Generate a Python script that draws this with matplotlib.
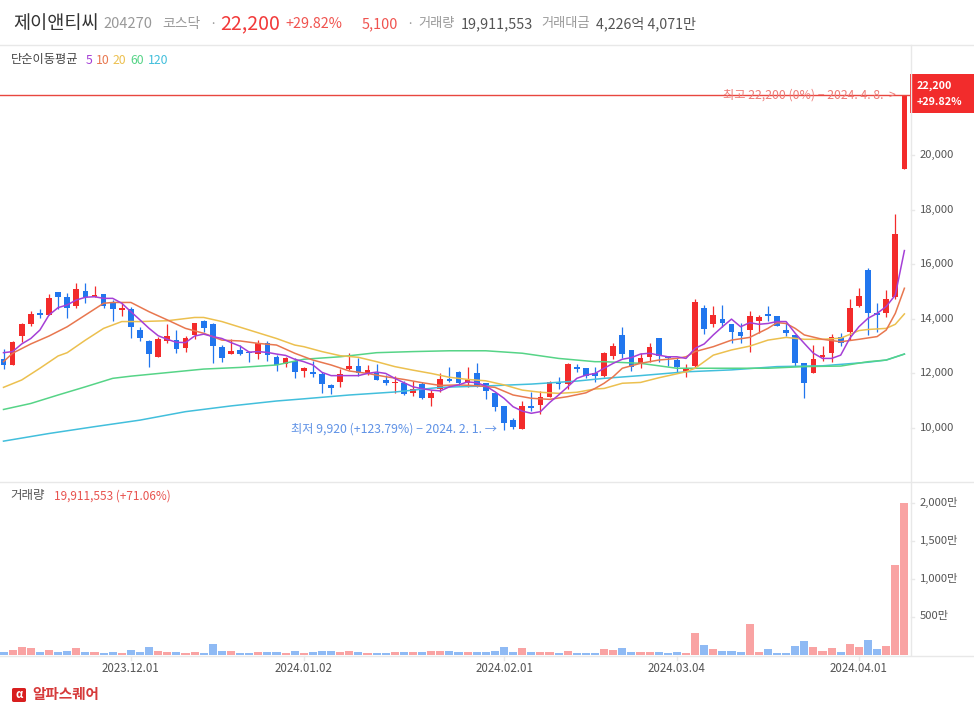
import matplotlib
matplotlib.use("Agg")
import matplotlib.pyplot as plt
from matplotlib.patches import FancyBboxPatch, Rectangle

plt.rcParams["font.family"] = ["Noto Sans CJK KR", "DejaVu Sans"]

W, H = 974, 709

# candles (one per trading day)
opens = [12530, 12310, 13370, 13810, 14210, 14150, 14980, 14800, 14470, 15020,
         14800, 14910, 14590, 14320, 14360, 13590, 13200, 12610, 13190, 13220,
         12940, 13420, 13920, 13810, 12970, 12720, 12860, 12800, 12720, 13100,
         12600, 12330, 12450, 12090, 12050, 11980, 11560, 11700, 12150, 12270,
         12000, 12030, 11760, 11640, 11650, 11290, 11610, 11100, 11440, 11780,
         12050, 11660, 12010, 11640, 11270, 10810, 10290, 9980, 10810, 10840,
         11140, 11690, 11620, 12220, 12190, 12030, 11900, 12650, 13410, 12850,
         12330, 12610, 13300, 12630, 12490, 12050, 12280, 14400, 13810, 13990,
         13810, 13520, 13590, 13920, 14180, 14100, 13590, 13410, 12370, 12030,
         12610, 12760, 13320, 13530, 14470, 15790, 14200, 14230, 14810, 19490]
closes = [12310, 13160, 13810, 14180, 14150, 14760, 14810, 14400, 15090, 14790,
          14860, 14480, 14360, 14400, 13700, 13300, 12720, 13260, 13370, 12900,
          13300, 13830, 13680, 13020, 12580, 12820, 12710, 12740, 13100, 12690,
          12320, 12560, 12040, 12200, 11990, 11620, 11480, 11980, 12270, 12010,
          12110, 11770, 11660, 11690, 11260, 11430, 11100, 11280, 11780, 11730,
          11650, 11780, 11510, 11370, 10780, 10200, 10050, 10810, 10730, 11120,
          11670, 11610, 12340, 12160, 11920, 11900, 12750, 13000, 12720, 12250,
          12560, 12970, 12650, 12580, 12250, 12200, 14620, 13640, 14140, 13850,
          13520, 13370, 14100, 14070, 14100, 13740, 13480, 12390, 11660, 12520,
          12670, 13330, 13130, 14400, 14840, 14230, 14140, 14730, 17110, 22200]
highs = [12890, 13190, 13830, 14290, 14360, 14910, 14980, 14930, 15300, 15300,
         15200, 14910, 14690, 14590, 14440, 13690, 13220, 13350, 13810, 13590,
         13370, 13860, 13960, 13830, 13040, 13250, 13040, 12820, 13220, 13190,
         12670, 12610, 12550, 12250, 12470, 12060, 11610, 12150, 12760, 12550,
         12310, 12340, 11940, 11920, 11720, 11720, 11690, 11390, 12030, 12250,
         12100, 12250, 12390, 11660, 11290, 10810, 10350, 10980, 11330, 11360,
         11730, 11860, 12370, 12340, 12190, 12230, 12770, 13100, 13710, 12850,
         12740, 13100, 13300, 12630, 12550, 12350, 14730, 14510, 14470, 14510,
         13810, 13830, 14290, 14140, 14470, 14100, 13900, 13410, 12370, 13040,
         13000, 13430, 13490, 14730, 15130, 15850, 14590, 15060, 17840, 22200]
lows = [12160, 12310, 13150, 13750, 14040, 14150, 14360, 14040, 14410, 14590,
        14790, 14410, 13930, 14110, 13310, 13200, 12250, 12610, 13100, 12740,
        12800, 13250, 13530, 12390, 12430, 12720, 12690, 12420, 12540, 12470,
        12100, 12250, 11820, 11880, 11880, 11290, 11250, 11510, 12120, 11920,
        11940, 11770, 11560, 11290, 11200, 11170, 11070, 10810, 11330, 11700,
        11580, 11510, 11490, 11060, 10620, 9920, 9960, 9950, 10620, 10510,
        11120, 11420, 11420, 12040, 11840, 11700, 11880, 12520, 12580, 12100,
        12190, 12430, 12430, 12280, 12030, 11880, 12210, 13440, 13710, 13710,
        13130, 13130, 12780, 13490, 13930, 13740, 13380, 12270, 11110, 12030,
        12470, 12430, 13020, 13220, 14420, 13420, 13530, 14080, 14740, 19490]

# volume in 만 shares
volumes = [44, 70, 101, 88, 44, 70, 44, 57, 88, 44,
           35, 31, 44, 31, 70, 39, 110, 57, 44, 44,
           31, 44, 26, 140, 57, 57, 31, 31, 35, 44,
           44, 31, 57, 31, 35, 53, 53, 44, 57, 44,
           26, 26, 26, 44, 44, 44, 44, 57, 57, 57,
           44, 44, 35, 44, 57, 101, 44, 88, 44, 44,
           44, 31, 57, 31, 31, 31, 75, 61, 88, 44,
           44, 44, 44, 31, 44, 31, 285, 127, 75, 57,
           57, 44, 404, 44, 75, 31, 31, 123, 180, 101,
           57, 88, 44, 140, 101, 193, 75, 114, 1175, 1991]

# moving averages
ma5 = [12760, 12800, 13080, 13280, 13590, 14140, 14410, 14510, 14690, 14790,
       14810, 14750, 14750, 14570, 14260, 13960, 13650, 13380, 13250, 13140,
       13130, 13370, 13440, 13350, 13280, 13130, 13000, 12780, 12800, 12770,
       12710, 12660, 12520, 12430, 12310, 12040, 11920, 11920, 11920, 11920,
       12000, 12050, 12000, 11820, 11660, 11510, 11440, 11390, 11360, 11510,
       11580, 11690, 11660, 11540, 11330, 11090, 10780, 10620, 10540, 10600,
       10930, 11210, 11510, 11820, 11940, 12000, 12190, 12370, 12520, 12580,
       12710, 12740, 12670, 12610, 12610, 12550, 12920, 13080, 13410, 13710,
       13990, 13710, 13860, 13800, 13830, 13900, 13900, 13470, 13100, 12740,
       12550, 12550, 12670, 13290, 13710, 14020, 14200, 14450, 14870, 16500]
ma10_idx = [0, 1, 3, 5, 7, 9, 11, 12, 14, 16, 18, 20, 22, 24, 26, 28, 30, 32,
            34, 36, 38, 40, 42, 44, 46, 48, 50, 52, 54, 56, 58, 60, 62, 64, 65,
            66, 67, 68, 70, 72, 74, 75, 76, 78, 80, 82, 84, 85, 86, 87, 88, 90,
            92, 94, 96, 97, 98, 99]
ma10 = [12430, 12740, 13080, 13370, 13710, 14140, 14570, 14600, 14600, 14260,
        13960, 13650, 13470, 13220, 13190, 13100, 13040, 12740, 12490, 12310,
        12090, 12000, 11880, 11780, 11660, 11560, 11580, 11550, 11490, 11210,
        11090, 11050, 11150, 11290, 11450, 11640, 11880, 12190, 12370, 12490,
        12550, 12610, 12800, 12980, 13220, 13320, 13650, 13860, 13830, 13650,
        13410, 13250, 13160, 13250, 13350, 13590, 14200, 15120]
ma20_idx = [0, 2, 4, 6, 7, 9, 11, 13, 15, 18, 21, 22, 24, 27, 30, 32, 33, 35,
            37, 39, 41, 43, 45, 47, 49, 51, 53, 55, 57, 59, 61, 63, 65, 66, 68,
            70, 72, 75, 76, 78, 80, 82, 84, 86, 88, 90, 92, 94, 95, 97, 98, 99]
ma20 = [11490, 11760, 12190, 12640, 12760, 13220, 13650, 13900, 13900, 13930,
        14050, 14050, 13900, 13590, 13280, 13040, 12980, 12800, 12650, 12590,
        12430, 12250, 12120, 12000, 11860, 11780, 11730, 11580, 11390, 11310,
        11270, 11310, 11430, 11450, 11640, 11670, 11840, 12060, 12190, 12670,
        12860, 13000, 13220, 13320, 13250, 13250, 13290, 13570, 13610, 13650,
        13800, 14180]
ma60_idx = [0, 3, 6, 9, 12, 14, 18, 22, 26, 30, 33, 37, 41, 45, 49, 53, 57, 61,
            65, 66, 70, 74, 78, 84, 88, 92, 95, 97, 99]
ma60 = [10680, 10900, 11210, 11510, 11820, 11900, 12030, 12160, 12220, 12310,
        12520, 12610, 12760, 12800, 12830, 12830, 12740, 12550, 12430, 12430,
        12370, 12190, 12190, 12190, 12250, 12270, 12430, 12490, 12710]
ma120_idx = [0, 5, 10, 15, 20, 25, 30, 33, 38, 43, 48, 53, 58, 63, 66, 70, 75,
             80, 85, 90, 95, 97, 99]
ma120 = [9520, 9800, 10050, 10290, 10600, 10810, 10990, 11070, 11210, 11320,
         11490, 11540, 11610, 11720, 11820, 11920, 12060, 12130, 12250, 12280,
         12410, 12490, 12710]

price_ticks = [10000, 12000, 14000, 16000, 18000, 20000]
vol_ticks = [500, 1000, 1500, 2000]
date_idx = [14, 33, 55, 74, 94]
date_labels = ["2023.12.01", "2024.01.02", "2024.02.01", "2024.03.04", "2024.04.01"]
last_price = 22200

RED = "#f32b2b"
BLUE = "#2176ee"
RED_V = "#f9a3a3"
BLUE_V = "#8fbaf4"
GREY = "#e8e8e8"
MA_COLORS = ["#a53fd6", "#e8774f", "#ecc04f", "#56d487", "#42bfdc"]


def fx(px):
    return px / W


def fy(py):
    return 1 - py / H


def put(px, py, s, color="#333333", size=8, weight="normal", ha="left"):
    fig.text(fx(px), fy(py), s, color=color, fontsize=size, fontweight=weight, ha=ha, va="center")


fig = plt.figure(figsize=(W / 100, H / 100), dpi=100, facecolor="white")

ax = fig.add_axes([0, fy(481), fx(910), (481 - 45) / H])
vax = fig.add_axes([0, fy(655), fx(910), (655 - 482) / H])

for a in (ax, vax):
    a.set_xlim(-0.385, 99.615)
    a.set_xticks([])
    a.set_yticks([])
    for s in a.spines.values():
        s.set_visible(False)
ax.set_ylim(8060, 24030)
vax.set_ylim(0, 2270)

days = list(range(len(closes)))
up = [c >= o for o, c in zip(opens, closes)]
colors = [RED if u else BLUE for u in up]

# wicks then bodies
ax.vlines(days, lows, highs, colors=colors, linewidth=0.9, zorder=2)
ax.bar(days, [abs(c - o) for o, c in zip(opens, closes)], bottom=[min(o, c) for o, c in zip(opens, closes)],
       width=0.62, color=colors, linewidth=0, zorder=3)

ax.plot(ma120_idx, ma120, color=MA_COLORS[4], lw=1.1, zorder=4)
ax.plot(ma60_idx, ma60, color=MA_COLORS[3], lw=1.1, zorder=4)
ax.plot(ma20_idx, ma20, color=MA_COLORS[2], lw=1.1, zorder=4)
ax.plot(ma10_idx, ma10, color=MA_COLORS[1], lw=1.1, zorder=4)
ax.plot(days, ma5, color=MA_COLORS[0], lw=1.1, zorder=5)

ax.axhline(last_price, color="#e8473f", lw=1.0, zorder=6)

vax.bar(days, volumes, width=0.88, color=[RED_V if u else BLUE_V for u in up], linewidth=0)

# frame lines
fig.add_artist(plt.Line2D([0, 1], [fy(44.5)] * 2, color=GREY, lw=1))
fig.add_artist(plt.Line2D([0, 1], [fy(481.5)] * 2, color=GREY, lw=1))
fig.add_artist(plt.Line2D([0, 1], [fy(655.5)] * 2, color=GREY, lw=1))
fig.add_artist(plt.Line2D([fx(910.5)] * 2, [fy(45), fy(655)], color=GREY, lw=1))

# right axis labels
for p in price_ticks:
    y = 428 - (p - 10000) * 0.0273
    fig.add_artist(plt.Line2D([fx(911), fx(914)], [fy(y)] * 2, color=GREY, lw=1))
    put(920, y, f"{p:,}", "#555555", 8.1)
for v in vol_ticks:
    y = 654.5 - v * 0.076
    fig.add_artist(plt.Line2D([fx(911), fx(914)], [fy(y)] * 2, color=GREY, lw=1))
    put(920, y, f"{v:,}만", "#555555", 8.1)

# date labels
for i, lab in zip(date_idx, date_labels):
    x = 3.5 + 9.1 * i
    fig.add_artist(plt.Line2D([fx(x)] * 2, [fy(656), fy(660)], color=GREY, lw=1))
    put(x, 669, lab, "#555555", 8.3, ha="center")

# last price tag
fig.add_artist(Rectangle((fx(910), fy(113)), fx(64), 39 / H, transform=fig.transFigure, color="#f22c2c", lw=0))
put(917, 86, "22,200", "white", 7.8, "bold")
put(917, 102, "+29.82%", "white", 7.8, "bold")

# annotations
put(723, 95, "최고 22,200 (0%) − 2024. 4. 8.  >", "#ee7c78", 8.8)
put(291, 429, "최저 9,920 (+123.79%) − 2024. 2. 1. →", "#5f92e6", 8.8)

# header
put(13, 24, "제이앤티씨", "#333333", 13.4, "medium")
put(103, 24, "204270", "#999999", 10.5)
put(162, 24, "코스닥", "#999999", 10)
put(209, 24, "·", "#999999", 9.5)
put(220, 24, "22,200", "#f23a3a", 14, "medium")
put(285, 24, "+29.82%", "#f0534f", 10.4)
put(362, 24, "5,100", "#f0534f", 10.4)
put(406, 24, "·", "#999999", 9.5)
put(418, 24, "거래량", "#999999", 9.5)
put(461, 24, "19,911,553", "#555555", 10.4)
put(541, 24, "거래대금", "#999999", 9.5)
put(596, 24, "4,226억 4,071만", "#555555", 10.2)

# indicator legend
put(11, 60, "단순이동평균", "#444444", 8.8)
for px, lab, c in zip([86, 96, 113, 130, 148], ["5", "10", "20", "60", "120"], MA_COLORS):
    put(px, 60, lab, c, 8.8)

put(10, 496, "거래량", "#555555", 9)
put(54, 496, "19,911,553 (+71.06%)", "#e8534f", 8.5)

# logo
fig.add_artist(FancyBboxPatch((fx(12), fy(702)), fx(14), 14 / H, boxstyle="round,pad=0,rounding_size=0.002",
                              transform=fig.transFigure, color="#d81f1f", lw=0))
put(19, 695, "α", "white", 8, "bold", ha="center")
put(32, 694, "알파스퀘어", "#d63a3a", 10.5, "bold")

fig.savefig("out.png", dpi=100)
